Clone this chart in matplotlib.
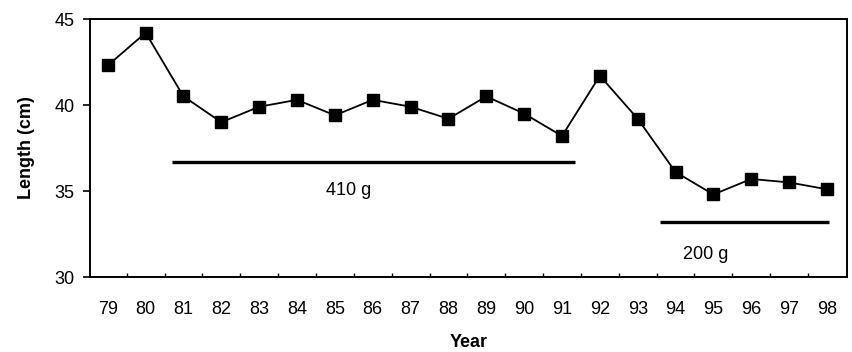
import numpy as np
import matplotlib.pyplot as plt
from matplotlib.ticker import MultipleLocator

plt.rcParams['font.family'] = ['Liberation Sans', 'DejaVu Sans']

# data
years = [79, 80, 81, 82, 83, 84, 85, 86, 87, 88, 89, 90, 91, 92, 93, 94, 95, 96, 97, 98]
length_cm = [42.3, 44.2, 40.5, 39.0, 39.9, 40.3, 39.4, 40.3, 39.9, 39.2,
             40.5, 39.5, 38.2, 41.7, 39.2, 36.1, 34.8, 35.7, 35.5, 35.1]

# periods of mesh/weight regime
period_names = ["410 g", "200 g"]
period_start = [80.7, 93.6]
period_end = [91.35, 98.05]
period_level = [36.7, 33.2]
label_x = [85.35, 94.8]
label_y = [35.05, 31.3]

fig = plt.figure(figsize=(8.53, 3.52), dpi=100)
ax = fig.add_axes([0.1055, 0.213, 0.8875, 0.733])

ax.plot(years, length_cm, color='black', lw=1.3, marker='s', ms=8,
        mfc='black', mec='black')

for name, x0, x1, lev, lx, ly in zip(period_names, period_start, period_end,
                                     period_level, label_x, label_y):
    ax.plot([x0, x1], [lev, lev], color='black', lw=2.4, solid_capstyle='butt')
    ax.text(lx, ly, name, ha='center', va='center', fontsize=13)

ax.set_xlim(78.53, 98.53)
ax.set_ylim(30, 45)
ax.set_xticks(years)
ax.set_xticklabels([str(y) for y in years])
ax.set_xticks(np.array(years[:-1]) + 0.5, minor=True)
ax.set_yticks([30, 35, 40, 45])

ax.tick_params(axis='x', which='major', length=0, pad=17, labelsize=13)
ax.tick_params(axis='x', which='minor', length=3, width=1, direction='in')
ax.tick_params(axis='y', which='major', length=5, width=1.2, pad=6, labelsize=13)

for s in ax.spines.values():
    s.set_linewidth(1.4)

ax.set_xlabel('Year', fontsize=13, fontweight='bold', labelpad=12)
ax.set_ylabel('Length (cm)', fontsize=13, fontweight='bold', labelpad=14)

fig.savefig('out.png', dpi=100)
